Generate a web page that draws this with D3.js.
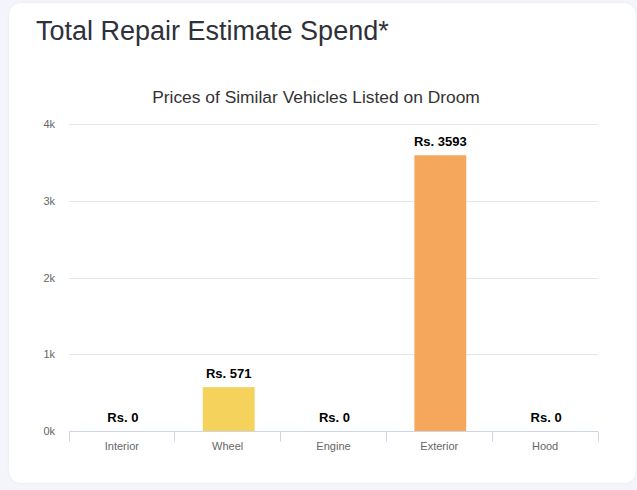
<!DOCTYPE html>
<html>
<head>
<meta charset="utf-8">
<script src="https://cdn.jsdelivr.net/npm/d3@7"></script>
<style>
  body { margin: 0; background: #f4f5fa; font-family: "Liberation Sans", Arial, sans-serif; }
  #card {
    position: absolute; left: 9px; top: 3px; width: 627px; height: 480px;
    background: #fff; border-radius: 12px;
    box-shadow: 0 0 3px rgba(0,0,0,0.06);
  }
  #card h2 {
    position: absolute; left: 27px; top: 13px; margin: 0;
    font-weight: normal; font-size: 27px; color: #2f313a;
  }
  #chart { position: absolute; left: 0; top: 0; }
</style>
</head>
<body>
<div id="card">
  <h2>Total Repair Estimate Spend*</h2>
  <div id="chart"></div>
</div>
<script>
var categories = ["Interior", "Wheel", "Engine", "Exterior", "Hood"];
var values = [0, 571, 0, 3593, 0];
var barColors = ["#f5d25b", "#f5d25b", "#f5a85c", "#f5a85c", "#f5a85c"];
var yTicks = [0, 1000, 2000, 3000, 4000];

var width = 627, height = 480;

var svg = d3.select("#chart").append("svg")
    .attr("width", width)
    .attr("height", height);

svg.append("text")
    .attr("x", 307)
    .attr("y", 100)
    .attr("text-anchor", "middle")
    .style("font-size", "17.4px")
    .style("fill", "#333")
    .text("Prices of Similar Vehicles Listed on Droom");

var x = d3.scaleBand()
    .domain(categories)
    .range([60, 589])
    .paddingInner(0)
    .paddingOuter(0);

var y = d3.scaleLinear()
    .domain([0, 4000])
    .range([428, 121]);

// gridlines
svg.selectAll(".grid")
    .data(yTicks.slice(1))
    .enter().append("line")
    .attr("x1", 60).attr("x2", 589)
    .attr("y1", function(d) { return Math.round(y(d)) + 0.5; })
    .attr("y2", function(d) { return Math.round(y(d)) + 0.5; })
    .attr("stroke", "#e6e6e6");

// y labels
svg.selectAll(".ylab")
    .data(yTicks)
    .enter().append("text")
    .attr("x", 46)
    .attr("y", function(d) { return y(d) + 4; })
    .attr("text-anchor", "end")
    .style("font-size", "11px")
    .style("fill", "#666")
    .text(function(d) { return (d / 1000) + "k"; });

// bars
svg.selectAll(".bar")
    .data(values)
    .enter().append("rect")
    .attr("x", function(d, i) { return x(categories[i]) + x.bandwidth() * 0.255 + 1; })
    .attr("width", x.bandwidth() * 0.49)
    .attr("y", function(d) { return y(d); })
    .attr("height", function(d) { return y(0) - y(d); })
    .attr("fill", function(d, i) { return barColors[i]; });

// data labels
svg.selectAll(".dlab")
    .data(values)
    .enter().append("text")
    .attr("x", function(d, i) { return x(categories[i]) + x.bandwidth() / 2 + 1; })
    .attr("y", function(d) { return y(d) - 9; })
    .attr("text-anchor", "middle")
    .style("font-size", "13px")
    .style("font-weight", "bold")
    .style("fill", "#000")
    .text(function(d) { return "Rs. " + d; });

// x axis
var xAxis = svg.append("g").attr("transform", "translate(0,428.5)");
xAxis.append("line")
    .attr("x1", 60).attr("x2", 589)
    .attr("stroke", "#ccd6eb");
xAxis.selectAll(".tick")
    .data(categories.map(function(c) { return x(c); }).concat([589]))
    .enter().append("line")
    .attr("x1", function(d) { return Math.floor(d) + 0.5; })
    .attr("x2", function(d) { return Math.floor(d) + 0.5; })
    .attr("y1", 0).attr("y2", 10)
    .attr("stroke", "#ccd6eb");
xAxis.selectAll(".xlab")
    .data(categories)
    .enter().append("text")
    .attr("x", function(d) { return x(d) + x.bandwidth() / 2; })
    .attr("y", 18)
    .attr("text-anchor", "middle")
    .style("font-size", "11px")
    .style("fill", "#666")
    .text(function(d) { return d; });
</script>
</body>
</html>
